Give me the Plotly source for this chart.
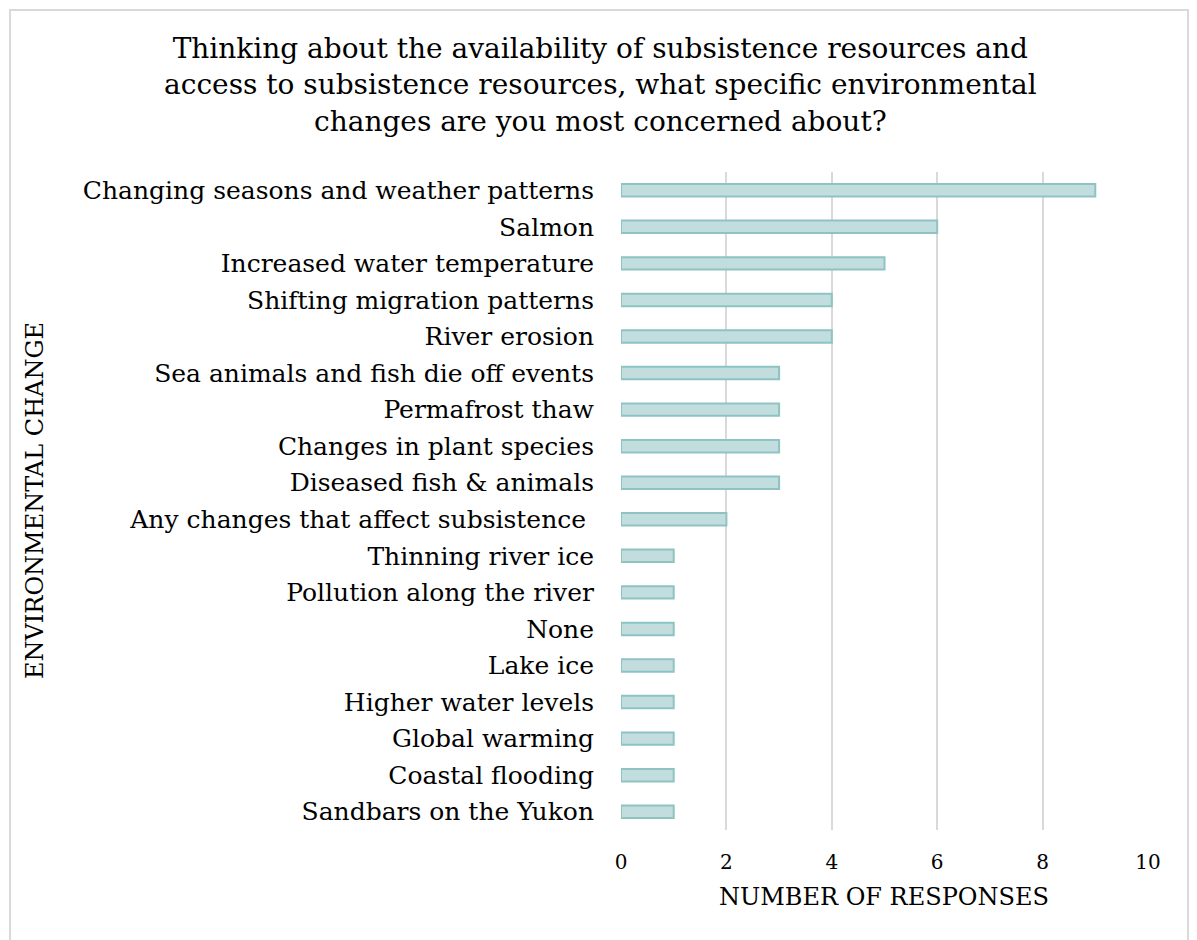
import plotly.graph_objects as go

categories = [
    "Changing seasons and weather patterns",
    "Salmon",
    "Increased water temperature",
    "Shifting migration patterns",
    "River erosion",
    "Sea animals and fish die off events",
    "Permafrost thaw",
    "Changes in plant species",
    "Diseased fish & animals",
    "Any changes that affect subsistence ",
    "Thinning river ice",
    "Pollution along the river",
    "None",
    "Lake ice",
    "Higher water levels",
    "Global warming",
    "Coastal flooding",
    "Sandbars on the Yukon",
]
responses = [9, 6, 5, 4, 4, 3, 3, 3, 3, 2, 1, 1, 1, 1, 1, 1, 1, 1]
x_ticks = [0, 2, 4, 6, 8, 10]

title_text = ("Thinking about the availability of subsistence resources and<br>"
              "access to subsistence resources, what specific environmental<br>"
              "changes are you most concerned about?")

W, H = 1197, 940
ML, MR, MT, MB = 621, 49, 172, 110
FONT = "DejaVu Serif"

fig = go.Figure(go.Bar(
    x=responses,
    y=categories,
    orientation="h",
    width=0.34,
    marker=dict(color="#c2dddd", line=dict(color="#8fc3c3", width=2)),
))

pw = W - ML - MR
ph = H - MT - MB


def px_x(p):
    return (p - ML) / pw


def px_y(p):
    return 1 - (p - MT) / ph


# light frame around the whole chart
fig.add_shape(type="rect", xref="paper", yref="paper",
              x0=px_x(10), x1=px_x(1188), y0=px_y(960), y1=px_y(10),
              line=dict(color="#d9d9d9", width=2), fillcolor="rgba(0,0,0,0)",
              layer="below")

fig.add_annotation(text=title_text, xref="paper", yref="paper",
                   x=px_x(600), y=px_y(85), xanchor="center", yanchor="middle",
                   showarrow=False, align="center",
                   font=dict(family=FONT, size=28, color="#000"))
fig.add_annotation(text="ENVIRONMENTAL CHANGE", xref="paper", yref="paper",
                   x=px_x(35), y=px_y(501), xanchor="center", yanchor="middle",
                   textangle=-90, showarrow=False,
                   font=dict(family=FONT, size=24, color="#000"))
fig.add_annotation(text="NUMBER OF RESPONSES", xref="paper", yref="paper",
                   x=px_x(884), y=px_y(897), xanchor="center", yanchor="middle",
                   showarrow=False,
                   font=dict(family=FONT, size=24, color="#000"))

fig.update_layout(
    width=W, height=H,
    margin=dict(l=ML, r=MR, t=MT, b=MB),
    paper_bgcolor="white", plot_bgcolor="white",
    showlegend=False,
    font=dict(family=FONT, color="#000"),
    bargap=0.6,
)
fig.update_xaxes(range=[0, 10], tickvals=x_ticks, showgrid=True,
                 gridcolor="#d9d9d9", gridwidth=2, zeroline=False,
                 showline=False, ticks="", ticklabelstandoff=18,
                 tickfont=dict(family=FONT, size=20, color="#000"))
fig.update_yaxes(autorange="reversed", showgrid=False, showline=False,
                 ticks="", ticklabelstandoff=26,
                 tickfont=dict(family=FONT, size=25, color="#000"))

fig.write_html("out.html")
